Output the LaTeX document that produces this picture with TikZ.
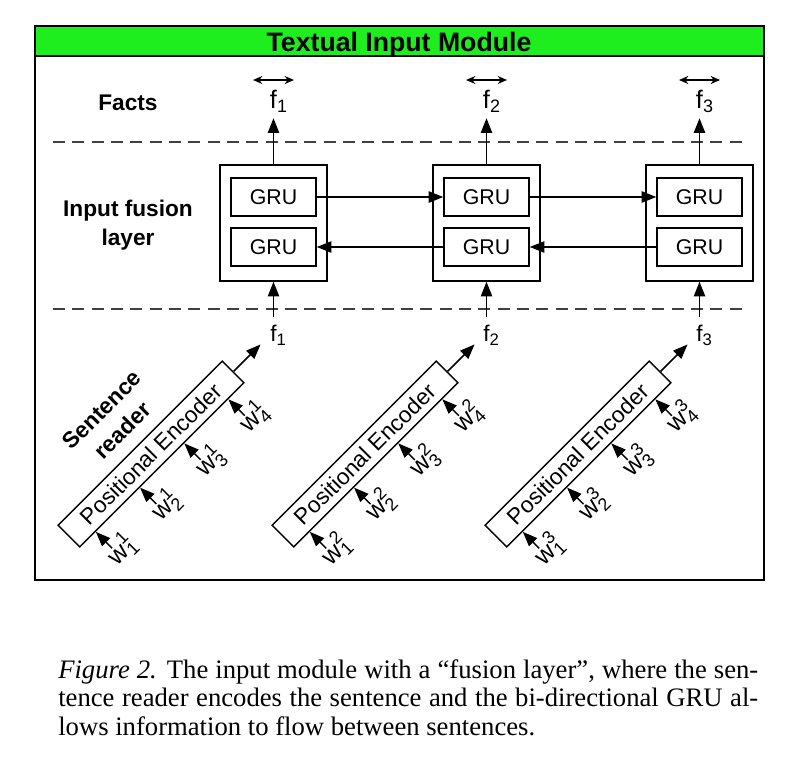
\documentclass[tikz,border=0pt]{standalone}
\usepackage{fontspec}
\setmainfont{Liberation Sans}
\newfontfamily\capfont{Liberation Serif}
\usetikzlibrary{arrows.meta,calc}
\definecolor{hdr}{RGB}{30,238,30}
\newcommand{\ftop}[1]{f\smash{\rlap{\raisebox{-3pt}{\fontsize{13.5}{13.5}\selectfont #1}}}}
\newcommand{\fbot}[1]{f\smash{\rlap{\raisebox{-3pt}{\fontsize{12.5}{12.5}\selectfont #1}}}}
\newcommand{\wlabel}[2]{w\smash{\rlap{\raisebox{8pt}{\fontsize{13.5}{13.5}\selectfont #1}}\rlap{\raisebox{-4pt}{\fontsize{13.5}{13.5}\selectfont #2}}}}
\begin{document}
\begin{tikzpicture}[x=0.75pt,y=-0.75pt,
  lab/.style={font=\fontsize{17}{21.75}\selectfont\bfseries, align=center, inner sep=0pt},
  gru/.style={draw, line width=1.1pt, minimum width=63.75pt, minimum height=28.5pt, inner sep=0pt, font=\fontsize{16}{16}\selectfont},
  outerbox/.style={draw, line width=1.1pt, minimum width=80.25pt, minimum height=87pt, inner sep=0pt},
  enc/.style={draw, line width=1.1pt, minimum width=174pt, minimum height=23pt, inner sep=0pt, rotate=45, font=\fontsize{17}{17}\selectfont},
  arr/.style={line width=1.1pt, -{Triangle[length=11pt,width=8.5pt]}},
  darr/.style={line width=1.1pt, {Stealth[length=7pt,width=6pt]}-{Stealth[length=7pt,width=6pt]}},
  ftlab/.style={font=\fontsize{19}{19}\selectfont, inner sep=7.5pt, anchor=base},
  fblab/.style={font=\fontsize{17}{17}\selectfont, inner sep=5.6pt, anchor=base},
  wlab/.style={font=\fontsize{19}{19}\selectfont, rotate=45, inner sep=1.8pt},
  sepline/.style={dash pattern=on 9pt off 5.5pt, line width=1pt, black!75}
]
\useasboundingbox (0,0) rectangle (788,768);
% frame and header
\fill[hdr] (35,26) rectangle (764,56);
\draw[line width=1.5pt] (35,26) rectangle (764,580);
\draw[line width=1.5pt] (35,56) -- (764,56);
\node[font=\fontsize{20}{20}\selectfont\bfseries, anchor=base, inner sep=0pt] (title) at (399,51.5) {Textual Input Module};
% separators
\draw[sepline] (53,142) -- (747,142);
\draw[sepline] (53,309) -- (747,309);
% row labels
\node[lab, anchor=base] (facts) at (128,110) {Facts};
\node[lab] (fusion) at (128,225) {Input fusion\\layer};
\node[lab, rotate=45] (reader) at (112,420) {Sentence\\reader};
% GRU columns
\foreach \i/\x in {1/273.5,2/486.5,3/699.5}{
  \node[outerbox] (ob\i) at (\x,223) {};
  \node[gru] (gt\i) at (\x,197) {GRU};
  \node[gru] (gb\i) at (\x,247) {GRU};
  \node[ftlab] (ft\i) at (\x,108) {\ftop{\i}};
  \node[fblab] (fb\i) at (\x,341) {\fbot{\i}};
  \draw[arr] (ob\i.north) -- (ft\i.south);
  \draw[arr] (fb\i.north) -- (ob\i.south);
  \draw[darr] ($(ft\i.base)+(-20.5,-28)$) -- ++(41,0);
}
\draw[arr] (gt1.east) -- (gt2.west);
\draw[arr] (gt2.east) -- (gt3.west);
\draw[arr] (gb3.west) -- (gb2.east);
\draw[arr] (gb2.west) -- (gb1.east);
% sentence readers
\foreach \i/\x in {1/151,2/365,3/578}{
  \node[enc] (e\i) at (\x,454) {Positional Encoder};
  \draw[arr] (e\i.east) -- ++(27,-27);
  \foreach \j/\fr in {1/0.097,2/0.365,3/0.633,4/0.9}{
    \coordinate (t\i\j) at ($(e\i.south west)!\fr!(e\i.south east)$);
    \node[wlab] (w\i\j) at ($(t\i\j)+(23,23)$) {\wlabel{\i}{\j}};
    \draw[arr] (w\i\j.north) -- (t\i\j);
  }
}
% caption
\node[anchor=north west, inner sep=0pt, align=left, font=\capfont\fontsize{20}{21.4}\selectfont] (cap) at (58,659)
 {\makebox[525pt][s]{\textit{Figure 2.} The input module with a “fusion layer”, where the sen-}\\
  \makebox[525pt][s]{tence reader encodes the sentence and the bi-directional GRU al-}\\
  lows information to flow between sentences.};
\end{tikzpicture}
\end{document}
